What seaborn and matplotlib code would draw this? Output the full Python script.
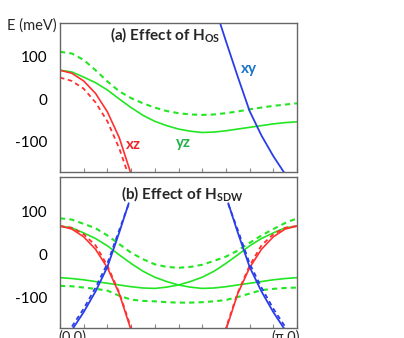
import numpy as np
import matplotlib
matplotlib.use("Agg")
import matplotlib.pyplot as plt
import seaborn as sns

sns.set_style("white")
plt.rcParams['font.family'] = ['Lato', 'DejaVu Sans']
plt.rcParams['mathtext.fontset'] = 'custom'
plt.rcParams['mathtext.rm'] = 'Lato:bold'
plt.rcParams['mathtext.bf'] = 'Lato:bold'

# ---- data (kx in units of pi, energy in meV) ----
kx = [0.0, 0.05, 0.1, 0.15, 0.2, 0.25, 0.3, 0.35, 0.4, 0.45, 0.5,
      0.55, 0.6, 0.65, 0.7, 0.75, 0.8, 0.85, 0.9, 0.95, 1.0]
yz_bare = [67, 63, 51, 38, 21, 0, -20, -38, -52, -62, -70,
           -75, -78, -77, -74, -70, -66, -62, -58, -55, -53]
yz_os = [110, 106, 91, 67, 41, 18, 2, -10, -20, -28, -33,
         -36, -37, -36, -33, -29, -24, -20, -16, -13, -10]

kx_xz = [0.0, 0.05, 0.1, 0.15, 0.2, 0.25, 0.3, 0.35]
xz_bare = [67, 60, 42, 13, -30, -90, -175, -260]
xz_os = [50, 42, 24, -8, -52, -115, -195, -280]

kx_xy = [0.65, 0.7, 0.75, 0.8, 0.85, 0.9, 0.95, 1.0]
xy_bare = [220, 135, 52, -28, -85, -133, -175, -210]

# panel (b): folded bands, xy shown up to ~120 meV
kx_xy_b = [0.71, 0.75, 0.8, 0.85, 0.9, 0.95, 1.0]
xy_b = [120, 52, -28, -85, -133, -175, -210]
xy_b_sdw = [118, 58, -20, -76, -125, -167, -200]
xz_sdw = [67, 63, 48, 22, -25, -88, -170, -255]
yz_sdw_upper = [85, 82, 72, 62, 45, 25, 5, -10, -22, -28, -30,
                -28, -23, -14, -4, 10, 28, 45, 60, 74, 85]
yz_sdw_lower = [-72, -73, -76, -79, -83, -95, -104, -107, -108, -110, -111,
                -111, -110, -108, -105, -98, -90, -82, -79, -77, -76]

yticks = [-100, 0, 100]
ytick_labels = ["-100", "0", "100"]
xticks = [0.0, 0.1, 0.2, 0.3, 0.4, 0.5, 0.6, 0.7, 0.8, 0.9, 1.0]

RED = "#ff3030"
GREEN = "#22e622"
BLUE = "#2a3ee8"
DOT = (0, (2.5, 2))

W, H = 404, 338
fig = plt.figure(figsize=(W / 100, H / 100), dpi=100)
ax_a = fig.add_axes([60 / W, 1 - 172 / H, 237 / W, 149 / H])
ax_b = fig.add_axes([60 / W, 1 - 328 / H, 237 / W, 151 / H])

def mirror(xs):
    return [1 - v for v in xs]

# panel (a)
sns.lineplot(x=kx, y=yz_bare, ax=ax_a, color=GREEN, lw=1.2)
sns.lineplot(x=kx, y=yz_os, ax=ax_a, color=GREEN, lw=1.5, linestyle=DOT)
sns.lineplot(x=kx_xz, y=xz_bare, ax=ax_a, color=RED, lw=1.2)
sns.lineplot(x=kx_xz, y=xz_os, ax=ax_a, color=RED, lw=1.3, linestyle=DOT)
sns.lineplot(x=kx_xy, y=xy_bare, ax=ax_a, color=BLUE, lw=1.3)

# panel (b)
sns.lineplot(x=kx, y=yz_bare, ax=ax_b, color=GREEN, lw=1.2)
sns.lineplot(x=mirror(kx), y=yz_bare, ax=ax_b, color=GREEN, lw=1.2)
sns.lineplot(x=kx, y=yz_sdw_upper, ax=ax_b, color=GREEN, lw=1.5, linestyle=DOT)
sns.lineplot(x=kx, y=yz_sdw_lower, ax=ax_b, color=GREEN, lw=1.5, linestyle=DOT)
sns.lineplot(x=kx_xz, y=xz_bare, ax=ax_b, color=RED, lw=1.2)
sns.lineplot(x=mirror(kx_xz), y=xz_bare, ax=ax_b, color=RED, lw=1.2)
sns.lineplot(x=kx_xz, y=xz_sdw, ax=ax_b, color=RED, lw=1.3, linestyle=DOT)
sns.lineplot(x=mirror(kx_xz), y=xz_sdw, ax=ax_b, color=RED, lw=1.3, linestyle=DOT)
sns.lineplot(x=kx_xy_b, y=xy_b, ax=ax_b, color=BLUE, lw=1.3)
sns.lineplot(x=mirror(kx_xy_b), y=xy_b, ax=ax_b, color=BLUE, lw=1.3)
sns.lineplot(x=kx_xy_b, y=xy_b_sdw, ax=ax_b, color=BLUE, lw=1.3, linestyle=DOT)
sns.lineplot(x=mirror(kx_xy_b), y=xy_b_sdw, ax=ax_b, color=BLUE, lw=1.3, linestyle=DOT)

for ax, ylim in ((ax_a, (-170, 177)), (ax_b, (-170, 181))):
    ax.set_xlim(0, 1)
    ax.set_ylim(*ylim)
    ax.set_xticks(xticks)
    ax.set_yticks(yticks)
    ax.set_yticklabels(ytick_labels)
    ax.set_xlabel("")
    ax.set_ylabel("")
    ax.tick_params(axis='x', direction='in', length=3, width=0.8, color='#888888',
                   labelbottom=False, bottom=True)
    ax.tick_params(axis='y', length=0, labelsize=11, pad=9, labelcolor='black')
    for s in ax.spines.values():
        s.set_color('#666666')
        s.set_linewidth(1.0)

fig.text(110 / W, 1 - 35 / H, r"(a) Effect of H$_{\mathrm{OS}}$",
         fontsize=11, fontweight='bold', va='center', ha='left')
fig.text(121 / W, 1 - 194 / H, r"(b) Effect of H$_{\mathrm{SDW}}$",
         fontsize=11, fontweight='bold', va='center', ha='left')

fig.text(133 / W, 1 - 145 / H, "xz", color="#e8262a", fontsize=11, fontweight='bold',
         ha='center', va='center')
fig.text(183 / W, 1 - 143 / H, "yz", color="#22b04a", fontsize=11, fontweight='bold',
         ha='center', va='center')
fig.text(249 / W, 1 - 69 / H, "xy", color="#1a74c8", fontsize=11, fontweight='bold',
         ha='center', va='center')

fig.text(7 / W, 1 - 26 / H, "E (meV)", fontsize=10.5, ha='left', va='center')
fig.text(72 / W, 1 - 330 / H, "(0,0)", fontsize=10.5, ha='center', va='top')
fig.text(286 / W, 1 - 330 / H, "(π,0)", fontsize=10.5, ha='center', va='top')

fig.savefig("out.png", dpi=100)
